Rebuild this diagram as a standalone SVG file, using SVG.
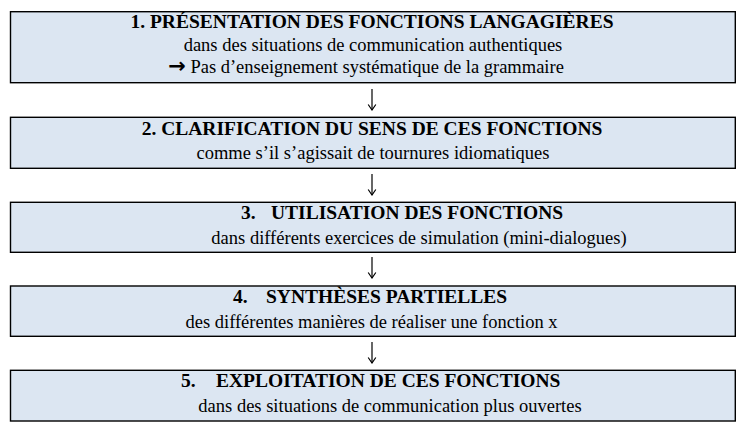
<svg xmlns="http://www.w3.org/2000/svg" width="739" height="424" viewBox="0 0 739 424">
<style>
.box{fill:#DCE6F2;stroke:#000;stroke-width:1.4}
.t{font-family:"Liberation Serif","Times New Roman",serif;font-size:19.5px;font-weight:bold;fill:#000}
.s{font-family:"Liberation Serif","Times New Roman",serif;font-size:18.5px;fill:#000}
.m{text-anchor:middle}
.ar{font-family:"DejaVu Sans",sans-serif;font-size:21px;font-weight:bold}
.arr{stroke:#000;stroke-width:1.2;fill:none}
</style>
<defs>
<marker id="ah" viewBox="0 0 10 10" refX="9.5" refY="5" markerWidth="10" markerHeight="10" markerUnits="userSpaceOnUse" orient="auto">
<path d="M4,1.2 L9.5,5 L4,8.8" fill="none" stroke="#000" stroke-width="1.2"/>
</marker>
</defs>
<rect width="739" height="424" fill="#fff"/>
<g id="node1">
<rect class="box" x="10.5" y="11.7" width="724.8" height="71"/>
<text class="t m" x="372" y="28">1. PRÉSENTATION DES FONCTIONS LANGAGIÈRES</text>
<text class="s m" x="373" y="51">dans des situations de communication authentiques</text>
<text class="s m" x="366" y="73"><tspan class="ar">→</tspan> Pas d’enseignement systématique de la grammaire</text>
</g>
<g id="node2">
<rect class="box" x="10.5" y="117.3" width="724.8" height="51"/>
<text class="t m" x="372" y="135">2. CLARIFICATION DU SENS DE CES FONCTIONS</text>
<text class="s m" x="373" y="159">comme s’il s’agissait de tournures idiomatiques</text>
</g>
<g id="node3">
<rect class="box" x="10.5" y="202.3" width="724.8" height="50"/>
<text class="t" y="219"><tspan x="241">3.</tspan><tspan x="271">UTILISATION DES FONCTIONS</tspan></text>
<text class="s m" x="419" y="244">dans différents exercices de simulation (mini-dialogues)</text>
</g>
<g id="node4">
<rect class="box" x="10.5" y="286" width="724.8" height="50.3"/>
<text class="t" y="303"><tspan x="233">4.</tspan><tspan x="266">SYNTHÈSES PARTIELLES</tspan></text>
<text class="s m" x="371.5" y="328">des différentes manières de réaliser une fonction x</text>
</g>
<g id="node5">
<rect class="box" x="10.5" y="370.3" width="724.8" height="50.7"/>
<text class="t" y="387"><tspan x="181">5.</tspan><tspan x="216">EXPLOITATION DE CES FONCTIONS</tspan></text>
<text class="s m" x="390" y="412">dans des situations de communication plus ouvertes</text>
</g>
<g id="connectors">
<line class="arr" x1="372" y1="89" x2="372" y2="110" marker-end="url(#ah)"/>
<line class="arr" x1="372" y1="174" x2="372" y2="195" marker-end="url(#ah)"/>
<line class="arr" x1="372" y1="257" x2="372" y2="278" marker-end="url(#ah)"/>
<line class="arr" x1="372" y1="342" x2="372" y2="363" marker-end="url(#ah)"/>
</g>
</svg>
